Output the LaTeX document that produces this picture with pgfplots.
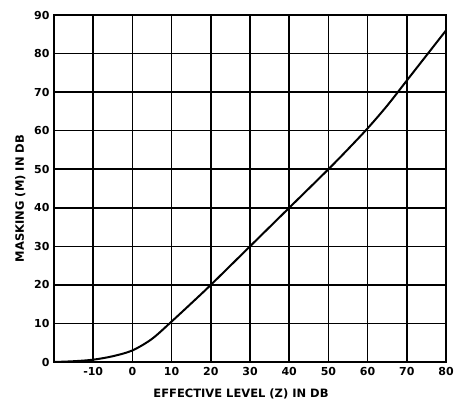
\documentclass[border=0pt]{standalone}
\usepackage{pgfplots}
\pgfplotsset{compat=1.18}
\usepackage{fontspec}
\setmainfont{DejaVu Sans}
\begin{document}
\begin{tikzpicture}
\path[use as bounding box] (-54pt,-42pt) rectangle (400pt,362pt);
\begin{axis}[
  at={(0pt,0pt)}, anchor=south west,
  scale only axis,
  width=392pt, height=347pt,
  xmin=-20, xmax=80, ymin=0, ymax=90,
  xtick={-10,0,...,80}, ytick={0,10,...,90},
  grid=major,
  grid style={line width=1.6pt, black},
  axis line style={line width=2pt},
  major tick length=0pt,
  tick label style={font=\bfseries\fontsize{11}{13}\selectfont},
  /pgf/number format/assume math mode=true,
  xticklabel style={yshift=-2pt},
  yticklabel style={xshift=-1pt},
  xlabel={EFFECTIVE LEVEL (Z) IN DB},
  ylabel={MASKING (M) IN DB},
  label style={font=\bfseries\fontsize{11.5}{13}\selectfont},
  xlabel style={yshift=-6pt, xshift=-9pt},
  ylabel style={yshift=2pt, xshift=-10pt},
  clip=false,
]
\addplot[line width=2pt, smooth, tension=0.5] coordinates {
  (-20,0) (-15,0.2) (-10,0.6) (-5,1.5) (0,3) (5,6) (10,10.5) (15,15.2)
  (20,20) (30,30) (40,40) (50,50) (55,55.2) (60,60.6) (65,66.5)
  (70,73) (75,79.5) (80,86)
};
\end{axis}
\end{tikzpicture}
\end{document}
